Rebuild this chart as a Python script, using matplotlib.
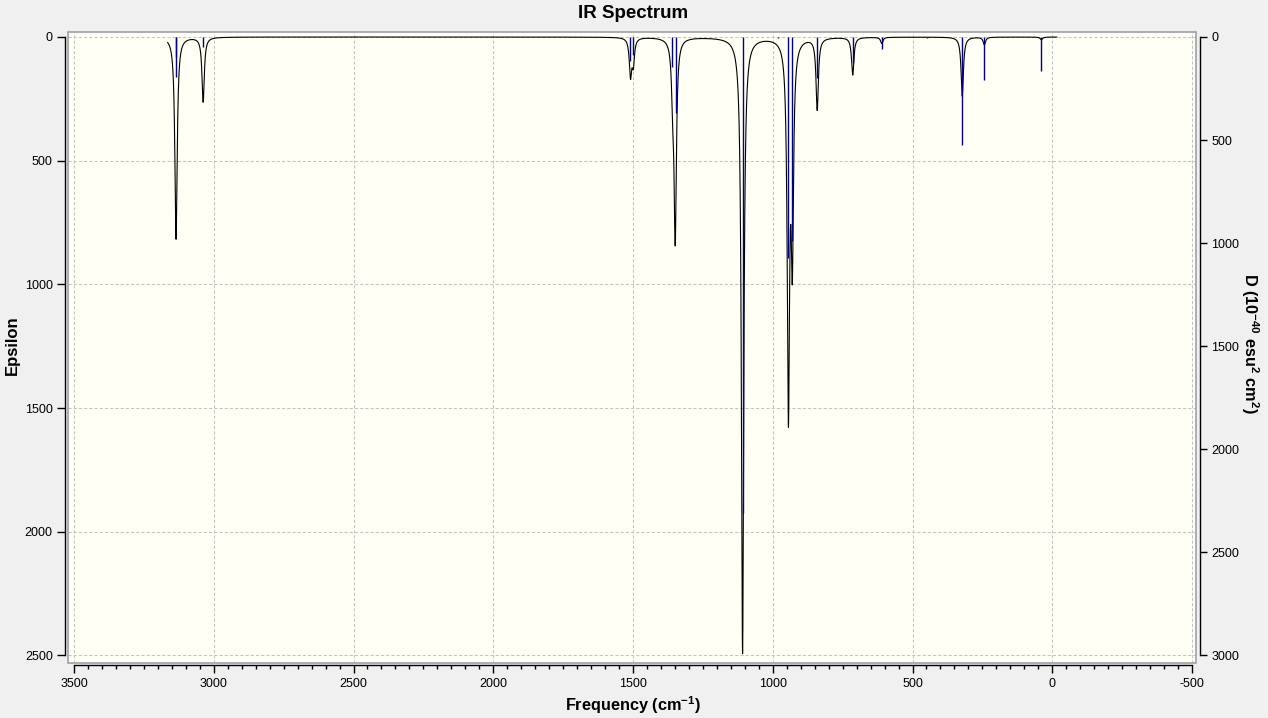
import numpy as np
import matplotlib
matplotlib.use("Agg")
import matplotlib.pyplot as plt
from matplotlib.ticker import FixedLocator
from matplotlib.patches import Rectangle

plt.rcParams['font.family'] = ['Liberation Sans', 'DejaVu Sans']
plt.rcParams['mathtext.fontset'] = 'custom'
plt.rcParams['mathtext.rm'] = 'Liberation Sans'
plt.rcParams['mathtext.bf'] = 'Liberation Sans:bold'

# ---- data ----
# broadened spectrum: Lorentzian band centres (cm-1) and peak epsilon
band_freq = [3135, 3038, 1509, 1499, 1358, 1349, 1108, 944, 930, 841, 714, 610, 322, 243, 39]
band_eps  = [817, 262, 150, 100, 180, 800, 2490, 1480, 828, 290, 152, 25, 239, 31, 11]
hwhm = 5.0
curve_range = (3165, -16)

# stick spectrum: frequencies (cm-1) and dipole strengths D (1e-40 esu^2 cm^2)
stick_freq = [3136, 3134, 3038, 1509, 1500, 1360, 1347, 1108, 944, 930, 980, 841, 714, 610, 448, 322, 243, 39]
stick_D    = [96, 193, 47, 117, 87, 146, 369, 2311, 1070, 990, 3, 199, 126, 56, 4, 524, 209, 166]

x_ticks = [3500, 3000, 2500, 2000, 1500, 1000, 500, 0, -500]
eps_ticks = [0, 500, 1000, 1500, 2000, 2500]
d_ticks = [0, 500, 1000, 1500, 2000, 2500, 3000]

# ---- build curve from the band list ----
nu = np.linspace(curve_range[0], curve_range[1], 20000)
eps = np.zeros_like(nu)
for f, h in zip(band_freq, band_eps):
    eps += h * hwhm**2 / ((nu - f)**2 + hwhm**2)

W, H = 1268, 718
fig = plt.figure(figsize=(W/100, H/100), dpi=100)
fig.patch.set_facecolor('#F0F0F0')

left, right, top, bottom = 68, 1196, 31.5, 662.5
ax = fig.add_axes([left/W, (H-bottom)/H, (right-left)/W, (bottom-top)/H])
ax.set_facecolor('#FFFFF5')

ax.set_xlim(3521.5, -514.3)
ax.set_ylim(2528.3, -22.2)

ax.plot(nu, eps, color='black', lw=0.8, zorder=3)

# grid
for xv in x_ticks:
    ax.axvline(xv, color='#C4C4C4', lw=0.75, ls=(0, (3, 2)), zorder=1)
for yv in eps_ticks:
    ax.axhline(yv, color='#C4C4C4', lw=0.75, ls=(0, (3, 2)), zorder=1)

# frame box
ax.add_patch(Rectangle((0, 0), 1, 1, transform=ax.transAxes, fill=False,
                       edgecolor='#A0A0A8', lw=1.2, clip_on=False, zorder=5))

for s in ['top', 'right']:
    ax.spines[s].set_visible(False)
ax.spines['left'].set_position(('outward', 2.2))
ax.spines['left'].set_bounds(0, 2500)
ax.spines['bottom'].set_position(('outward', 1.8))
ax.spines['bottom'].set_bounds(3500, -500)
for s in ['left', 'bottom']:
    ax.spines[s].set_linewidth(1.0)
    ax.spines[s].set_color('black')

ax.xaxis.set_major_locator(FixedLocator(x_ticks))
ax.xaxis.set_minor_locator(FixedLocator(np.arange(-500, 3501, 50)))
ax.yaxis.set_major_locator(FixedLocator(eps_ticks))
ax.tick_params(axis='x', which='major', direction='out', length=6, width=1, pad=3.5, labelsize=9)
ax.tick_params(axis='x', which='minor', direction='out', length=3, width=1)
ax.tick_params(axis='y', which='major', direction='out', length=5.8, width=1, pad=3, labelsize=9)
ax.set_xticklabels([str(v) for v in x_ticks])

# right axis with sticks
ax2 = ax.twinx()
ax2.set_ylim(2528.3 * 1.2, -22.2 * 1.2)
ax2.vlines(stick_freq, 0, stick_D, color='#000088', lw=1.0, zorder=4)
for s in ['top', 'left', 'bottom']:
    ax2.spines[s].set_visible(False)
ax2.spines['right'].set_position(('outward', 2.9))
ax2.spines['right'].set_bounds(0, 3000)
ax2.spines['right'].set_linewidth(1.0)
ax2.yaxis.set_major_locator(FixedLocator(d_ticks))
ax2.tick_params(axis='y', which='major', direction='out', length=5, width=1, pad=3, labelsize=9)

# texts
fig.text(633.5/W, 1 - 14/H, 'IR Spectrum', ha='center', va='center', fontsize=13.5, fontweight='bold')
fig.text(12/W, 1 - 345/H, 'Epsilon', ha='center', va='center', rotation=90, fontsize=12, fontweight='bold')
fig.text(633/W, 1 - 705/H, r'Frequency (cm$^{\mathbf{-1}}$)', ha='center', va='center',
         fontsize=11.7, fontweight='bold')
fig.text(1250/W, 1 - 343/H, r'D (10$^{\mathbf{-40}}$ esu$^{\mathbf{2}}$ cm$^{\mathbf{2}}$)',
         ha='center', va='center', rotation=270, fontsize=11.7, fontweight='bold')

fig.savefig('out.png', dpi=100, facecolor=fig.get_facecolor())
